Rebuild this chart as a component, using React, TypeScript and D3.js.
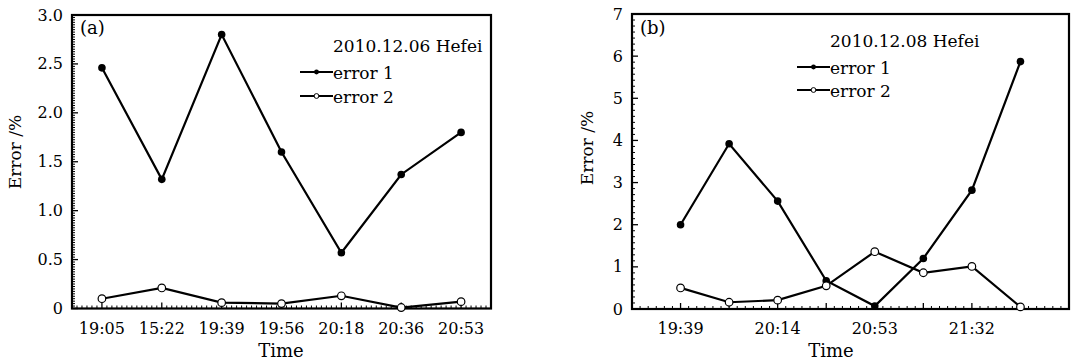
import React from "react";
import * as d3 from "d3";

// ---------- data ----------
const leftCategories = ["19:05", "15:22", "19:39", "19:56", "20:18", "20:36", "20:53"];
const leftError1 = [2.46, 1.32, 2.8, 1.6, 0.57, 1.37, 1.8];
const leftError2 = [0.1, 0.21, 0.06, 0.05, 0.13, 0.01, 0.07];
const leftYTicks = [0, 0.5, 1.0, 1.5, 2.0, 2.5, 3.0];
const leftYTickLabels = ["0", "0.5", "1.0", "1.5", "2.0", "2.5", "3.0"];

const rightTickLabels = ["19:39", "", "20:14", "", "20:53", "", "21:32", ""];
const rightError1 = [2.0, 3.92, 2.56, 0.67, 0.07, 1.2, 2.82, 5.87];
const rightError2 = [0.5, 0.16, 0.21, 0.55, 1.36, 0.86, 1.01, 0.05];
const rightYTicks = [0, 1, 2, 3, 4, 5, 6, 7];
const rightYTickLabels = ["0", "1", "2", "3", "4", "5", "6", "7"];

const seriesNames = ["error 1", "error 2"];

const FONT = "'DejaVu Serif', 'Liberation Serif', serif";

type PanelProps = {
  x0: number; x1: number; y0: number; y1: number;
  labels: string[];
  e1: number[]; e2: number[];
  yTicks: number[]; yTickLabels: string[];
  yMax: number; xPadding: number; xSub: number; yMinorStep: number;
  tag: string; title: string;
  legendX: number; legendLineX0: number; titleY: number; l1Y: number; l2Y: number;
  yLabelX: number; yLabelY: number; timeX: number;
};

function Panel(p: PanelProps) {
  const idx = p.labels.map((_, i) => String(i));
  const x = d3.scalePoint<string>().domain(idx).range([p.x0, p.x1]).padding(p.xPadding);
  const y = d3.scaleLinear().domain([0, p.yMax]).range([p.y1, p.y0]);
  const step = x.step();
  const first = x("0")!;
  const line = d3.line<number>().x((_, i) => x(String(i))!).y((d) => y(d));

  // minor x ticks
  const minorX: number[] = [];
  const n = p.labels.length;
  for (let k = Math.ceil(-p.xPadding * p.xSub); k <= (n - 1 + p.xPadding) * p.xSub; k++) {
    if (k % p.xSub === 0) continue;
    const pos = first + (k / p.xSub) * step;
    if (pos > p.x0 + 1 && pos < p.x1 - 1) minorX.push(pos);
  }
  const minorY = d3.range(0, p.yMax + 1e-9, p.yMinorStep).filter(
    (v) => !p.yTicks.some((t) => Math.abs(t - v) < 1e-6)
  );

  return (
    <g>
      {/* minor ticks */}
      {minorX.map((px, i) => (
        <line key={"mx" + i} x1={px} x2={px} y1={p.y1} y2={p.y1 - 3} stroke="#000" strokeWidth={1} />
      ))}
      {minorY.map((v, i) => (
        <line key={"my" + i} x1={p.x0} x2={p.x0 + 3} y1={y(v)} y2={y(v)} stroke="#000" strokeWidth={1} />
      ))}
      {/* major ticks */}
      {idx.map((d) => (
        <line key={"Mx" + d} x1={x(d)} x2={x(d)} y1={p.y1} y2={p.y1 - 6} stroke="#000" strokeWidth={1.3} />
      ))}
      {p.yTicks.map((t) => (
        <line key={"My" + t} x1={p.x0} x2={p.x0 + 6} y1={y(t)} y2={y(t)} stroke="#000" strokeWidth={1.3} />
      ))}
      {/* frame */}
      <rect x={p.x0} y={p.y0} width={p.x1 - p.x0} height={p.y1 - p.y0} fill="none" stroke="#000" strokeWidth={2.2} />

      {/* tick labels */}
      {idx.map((d, i) => (
        <text key={"tx" + d} x={x(d)} y={334} textAnchor="middle" fontSize={16} fontFamily={FONT}>
          {p.labels[i]}
        </text>
      ))}
      {p.yTicks.map((t, i) => (
        <text key={"ty" + t} x={p.x0 - 9} y={y(t)} textAnchor="end" dominantBaseline="central" fontSize={16} fontFamily={FONT}>
          {p.yTickLabels[i]}
        </text>
      ))}

      {/* axis titles */}
      <text x={p.timeX} y={357} textAnchor="middle" fontSize={18} fontFamily={FONT}>Time</text>
      <text transform={`translate(${p.yLabelX},${p.yLabelY}) rotate(-90)`} textAnchor="middle" dominantBaseline="central" fontSize={17} fontFamily={FONT}>
        Error /%
      </text>
      <text x={p.x0 + 8} y={34} fontSize={18} fontFamily={FONT}>{p.tag}</text>

      {/* series */}
      <path d={line(p.e2)!} fill="none" stroke="#000" strokeWidth={2.2} />
      <path d={line(p.e1)!} fill="none" stroke="#000" strokeWidth={2.2} />
      {p.e1.map((v, i) => (
        <circle key={"c1" + i} cx={x(String(i))} cy={y(v)} r={3.8} fill="#000" />
      ))}
      {p.e2.map((v, i) => (
        <circle key={"c2" + i} cx={x(String(i))} cy={y(v)} r={3.8} fill="#fff" stroke="#000" strokeWidth={1.2} />
      ))}

      {/* legend */}
      <text x={p.legendX} y={p.titleY} fontSize={17} fontFamily={FONT}>{p.title}</text>
      {[p.l1Y, p.l2Y].map((ly, i) => (
        <g key={"lg" + i}>
          <line x1={p.legendLineX0} x2={p.legendX} y1={ly} y2={ly} stroke="#000" strokeWidth={2} />
          <circle cx={(p.legendLineX0 + p.legendX) / 2} cy={ly} r={2.4}
            fill={i === 0 ? "#000" : "#fff"} stroke="#000" strokeWidth={i === 0 ? 0 : 1} />
          <text x={p.legendX} y={ly + 1} dominantBaseline="central" fontSize={17} fontFamily={FONT}>
            {seriesNames[i]}
          </text>
        </g>
      ))}
    </g>
  );
}

export default function App() {
  return (
    <svg width={1075} height={363} style={{ position: "absolute", left: 0, top: 0, background: "#fff" }}>
      <rect width={1075} height={363} fill="#fff" />
      <Panel
        x0={72} x1={491} y0={15} y1={308.5}
        labels={leftCategories} e1={leftError1} e2={leftError2}
        yTicks={leftYTicks} yTickLabels={leftYTickLabels}
        yMax={3} xPadding={0.5} xSub={12} yMinorStep={0.025}
        tag="(a)" title="2010.12.06 Hefei"
        legendX={333} legendLineX0={300} titleY={52} l1Y={72} l2Y={96}
        yLabelX={15} yLabelY={152} timeX={281}
      />
      <Panel
        x0={632} x1={1069} y0={14} y1={309}
        labels={rightTickLabels} e1={rightError1} e2={rightError2}
        yTicks={rightYTicks} yTickLabels={rightYTickLabels}
        yMax={7} xPadding={1} xSub={6} yMinorStep={1 / 7}
        tag="(b)" title="2010.12.08 Hefei"
        legendX={830} legendLineX0={797} titleY={47} l1Y={67} l2Y={90}
        yLabelX={587} yLabelY={148} timeX={831}
      />
    </svg>
  );
}
